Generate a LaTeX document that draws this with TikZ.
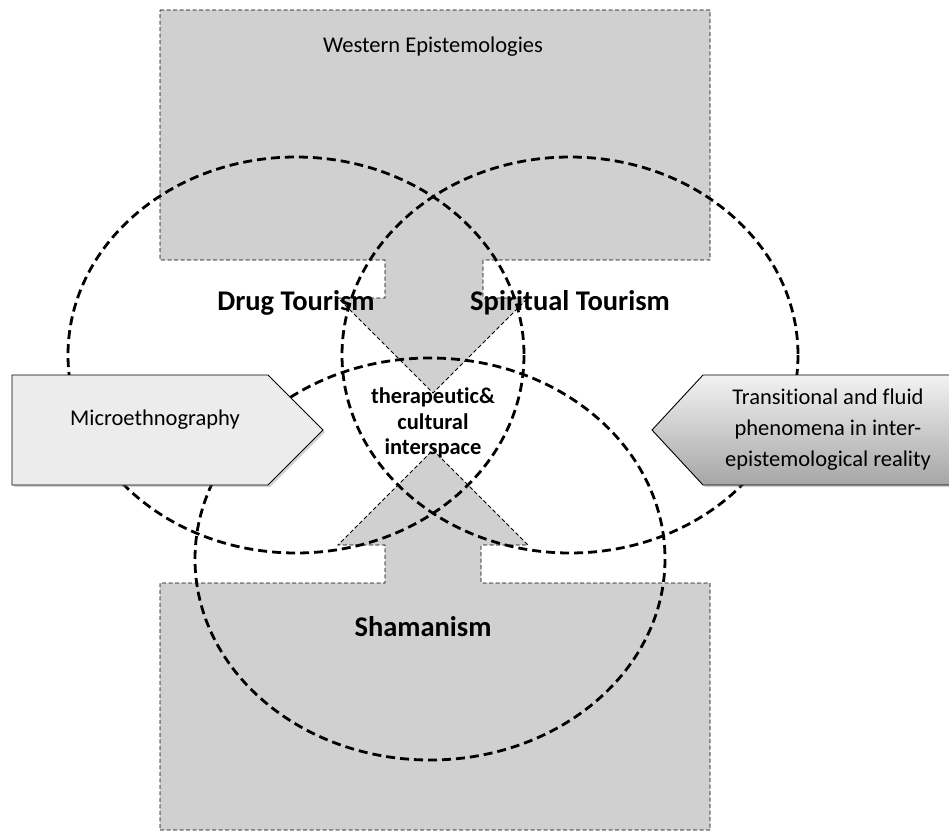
\documentclass[tikz,border=0pt]{standalone}
\usepackage{fontspec}
\setmainfont{Carlito}[Ligatures=NoCommon]
\usetikzlibrary{shadows}
\definecolor{boxgray}{RGB}{208,208,208}
\definecolor{pentlight}{RGB}{236,236,236}
\begin{document}
\begin{tikzpicture}[x=1pt,y=-1pt,
  graybox/.style={fill=boxgray,draw=black,line width=0.8pt,dash pattern=on 4pt off 2.5pt},
  circ/.style={draw=black,line width=2.8pt,dash pattern=on 9pt off 5pt},
  pent/.style={draw=black,line width=0.9pt,drop shadow={opacity=0.35,shadow xshift=2pt,shadow yshift=-2pt}},
  bigbold/.style={font=\fontsize{28.5}{32}\selectfont\bfseries},
  midtext/.style={font=\fontsize{22.5}{25.5}\selectfont\bfseries,align=center},
  plain/.style={font=\fontsize{22.5}{31}\selectfont,align=center}]
\useasboundingbox (0,0) rectangle (949,832);
% top arrow box
\draw[graybox] (160,10) -- (710,10) -- (710,260) -- (483,260) -- (483,298) -- (528,298)
  -- (433,393) -- (338,298) -- (385,298) -- (385,260) -- (160,260) -- cycle;
% bottom arrow box
\draw[graybox] (160,830) -- (710,830) -- (710,583) -- (481,583) -- (481,545) -- (528,545)
  -- (433,450) -- (338,545) -- (385,545) -- (385,583) -- (160,583) -- cycle;
% ellipses
\draw[circ] (296,355) ellipse [x radius=228,y radius=198];
\draw[circ] (570,355) ellipse [x radius=228,y radius=198];
\draw[circ] (430,559) ellipse [x radius=235,y radius=201];
% pentagons
\draw[pent,fill=pentlight] (12,375) -- (268,375) -- (323,430) -- (268,485) -- (12,485) -- cycle;
\draw[pent,top color=white!95!black,bottom color=black!35] (652,430) -- (703,375) -- (953,375) -- (953,485) -- (703,485) -- cycle;
% texts
\node[plain] (west) at (433,47) {Western Epistemologies};
\node[bigbold] (drug) at (296,303) {Drug Tourism};
\node[bigbold] (spir) at (570,303) {Spiritual Tourism};
\node[bigbold] (sham) at (423,627) {Shamanism};
\node[midtext] (inter) at (433,423) {therapeutic\&\\cultural\\interspace};
\node[plain] (micro) at (155,420) {Microethnography};
\node[plain] (trans) at (828,430) {Transitional and fluid\\phenomena in inter-\\epistemological reality};
\end{tikzpicture}
\end{document}
